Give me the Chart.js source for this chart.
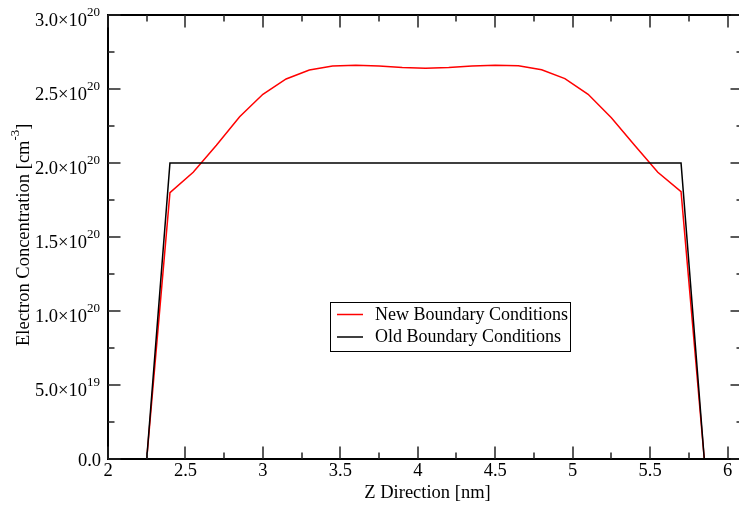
<!DOCTYPE html>
<html><head><meta charset="utf-8">
<script src="https://cdn.jsdelivr.net/npm/chart.js@4/dist/chart.umd.min.js"></script>
<style>
html,body{margin:0;padding:0;background:#fff;overflow:hidden;width:739px;height:507px}
#wrap{position:absolute;left:0;top:0;width:760px;height:507px}
</style>
</head><body><div id="wrap"><canvas id="c" width="760" height="507"></canvas></div>
<script>
// ---- data ----
const seriesNames = ["New Boundary Conditions", "Old Boundary Conditions"];
const zNew = [2.0, 2.25, 2.4, 2.55, 2.7, 2.85, 3.0, 3.15, 3.3, 3.45, 3.6, 3.75, 3.9, 4.05, 4.2, 4.35, 4.5, 4.65, 4.8, 4.95, 5.1, 5.25, 5.4, 5.55, 5.7, 5.85, 6.2];
const nNew = [0, 0, 1.80e20, 1.937e20, 2.12e20, 2.313e20, 2.464e20, 2.568e20, 2.628e20, 2.655e20, 2.66e20, 2.655e20, 2.645e20, 2.64e20, 2.645e20, 2.655e20, 2.66e20, 2.657e20, 2.63e20, 2.57e20, 2.464e20, 2.306e20, 2.12e20, 1.937e20, 1.806e20, 0, 0];
const zOld = [2.0, 2.25, 2.4, 5.7, 5.85, 6.2];
const nOld = [0, 0, 2.0e20, 2.0e20, 0, 0];
const xTicks = [2, 2.5, 3, 3.5, 4, 4.5, 5, 5.5, 6];
const xTickLabels = ["2", "2.5", "3", "3.5", "4", "4.5", "5", "5.5", "6"];
const yTicks = [0, 5e19, 1e20, 1.5e20, 2e20, 2.5e20, 3e20];
const yTickMantissa = ["0.0", "5.0\u00D710", "1.0\u00D710", "1.5\u00D710", "2.0\u00D710", "2.5\u00D710", "3.0\u00D710"];
const yTickExponent = ["", "19", "20", "20", "20", "20", "20"];
const xTitle = "Z Direction [nm]";
const yTitleMain = "Electron Concentration [cm";
const yTitleSup = "-3";
const yTitleEnd = "]";
const seriesColors = ["#ff0000", "#000000"];

const SERIF = '"Liberation Serif", "Times New Roman", serif';

const framePlugin = {
  id: 'frame',
  afterDatasetsDraw(chart) {
    const ctx = chart.ctx, a = chart.chartArea, xs = chart.scales.x, ys = chart.scales.y;
    ctx.save();
    // frame
    ctx.strokeStyle = '#000'; ctx.lineWidth = 2;
    ctx.strokeRect(a.left, a.top, a.right - a.left, a.bottom - a.top);
    // ticks
    ctx.strokeStyle = '#222'; ctx.lineWidth = 1.5;
    const seg = (x1, y1, x2, y2) => { ctx.beginPath(); ctx.moveTo(x1, y1); ctx.lineTo(x2, y2); ctx.stroke(); };
    for (let i = 0; ; i++) {
      const v = 2 + 0.25 * i;
      if (v > xs.max + 1e-9) break;
      const px = Math.round(xs.getPixelForValue(v));
      const len = (i % 2 === 0) ? 12.5 : 6.5;
      seg(px, a.bottom, px, a.bottom - len);
      seg(px, a.top, px, a.top + len);
    }
    for (let i = 0; i <= 12; i++) {
      const v = 0.25e20 * i;
      const py = Math.round(ys.getPixelForValue(v));
      const len = (i % 2 === 0) ? 12.5 : 6.5;
      seg(a.left, py, a.left + len, py);
      seg(a.right, py, a.right - len, py);
    }
    ctx.fillStyle = '#000';
    // x tick labels
    ctx.font = '18.5px ' + SERIF;
    ctx.textAlign = 'center'; ctx.textBaseline = 'alphabetic';
    xTicks.forEach((v, i) => {
      ctx.fillText(xTickLabels[i], xs.getPixelForValue(v), a.bottom + 17);
    });
    // y tick labels
    yTicks.forEach((v, i) => {
      const py = ys.getPixelForValue(v);
      ctx.textAlign = 'right';
      if (!yTickExponent[i]) {
        ctx.font = '18.5px ' + SERIF;
        ctx.fillText(yTickMantissa[i], 101, py + 7);
      } else {
        ctx.font = '13px ' + SERIF;
        ctx.fillText(yTickExponent[i], 100, py + 1);
        const sw = ctx.measureText(yTickExponent[i]).width;
        ctx.font = '18.5px ' + SERIF;
        ctx.fillText(yTickMantissa[i], 100 - sw, py + 10.5);
      }
    });
    // x title
    ctx.font = '18.5px ' + SERIF;
    ctx.textAlign = 'center';
    ctx.fillText(xTitle, (a.left + a.right) / 2 + 2, 498);
    // y title
    ctx.save();
    ctx.translate(28.5, 346);
    ctx.rotate(-Math.PI / 2);
    ctx.textAlign = 'left';
    ctx.font = '18.5px ' + SERIF;
    ctx.fillText(yTitleMain, 0, 0);
    const w1 = ctx.measureText(yTitleMain).width;
    ctx.font = '13px ' + SERIF;
    ctx.fillText(yTitleSup, w1, -9.5);
    const w2 = ctx.measureText(yTitleSup).width;
    ctx.font = '18.5px ' + SERIF;
    ctx.fillText(yTitleEnd, w1 + w2, 0);
    ctx.restore();
    // legend
    ctx.lineWidth = 1; ctx.strokeStyle = '#000';
    ctx.strokeRect(330.5, 302.5, 240, 49);
    const rows = [314.5, 337];
    const bases = [319.5, 341.7];
    ctx.font = '18px ' + SERIF; ctx.textAlign = 'left';
    chart.data.datasets.forEach((ds, i) => {
      ctx.strokeStyle = ds.borderColor; ctx.lineWidth = 1.5;
      seg(337, rows[i], 363, rows[i]);
      ctx.fillStyle = '#000';
      ctx.fillText(ds.label, 375, bases[i]);
    });
    ctx.restore();
  }
};

new Chart(document.getElementById('c'), {
  type: 'line',
  data: {
    datasets: [
      { label: seriesNames[0], data: zNew.map((z, i) => ({ x: z, y: nNew[i] })), borderColor: seriesColors[0], borderWidth: 1.5, pointRadius: 0, tension: 0, fill: false, order: 1 },
      { label: seriesNames[1], data: zOld.map((z, i) => ({ x: z, y: nOld[i] })), borderColor: seriesColors[1], borderWidth: 1.5, pointRadius: 0, tension: 0, fill: false, order: 0 }
    ]
  },
  options: {
    responsive: false, animation: false, devicePixelRatio: 1,
    layout: { padding: { left: 108, top: 15, right: 17, bottom: 48 } },
    plugins: { legend: { display: false }, tooltip: { enabled: false } },
    scales: {
      x: { type: 'linear', min: 2, max: 6.1, display: false },
      y: { type: 'linear', min: 0, max: 3e20, display: false }
    }
  },
  plugins: [framePlugin]
});
</script>
</body></html>
